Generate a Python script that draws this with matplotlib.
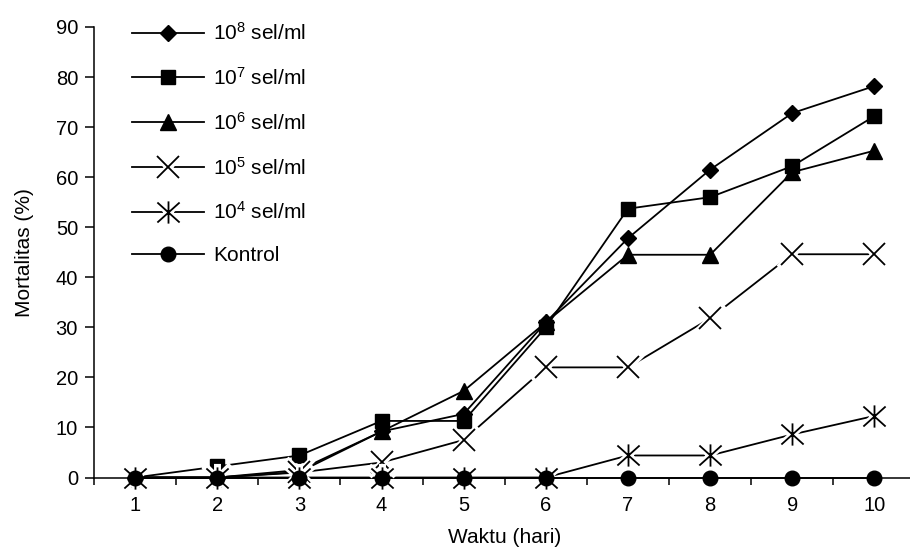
import matplotlib
matplotlib.use('Agg')
import matplotlib.pyplot as plt
from matplotlib.path import Path
from matplotlib.markers import MarkerStyle
from matplotlib.legend_handler import HandlerTuple
from matplotlib.ticker import MultipleLocator, FixedLocator

plt.rcParams['font.family'] = ['Liberation Sans', 'DejaVu Sans']
plt.rcParams['mathtext.default'] = 'regular'
plt.rcParams['font.size'] = 15

# data (mortalitas %, hari 1-10)
days = [1, 2, 3, 4, 5, 6, 7, 8, 9, 10]
d8 = [0, 0, 1.5, 9.2, 12.7, 31.0, 47.8, 61.5, 72.8, 78.2]
d7 = [0, 2.2, 4.4, 11.3, 11.3, 30.0, 53.7, 56.0, 62.2, 72.2]
d6 = [0, 0, 1.1, 9.2, 17.3, 31.0, 44.5, 44.5, 61.0, 65.3]
d5 = [0, 0, 1.0, 3.0, 7.5, 22.0, 22.0, 31.8, 44.6, 44.6]
d4 = [0, 0, 0, 0, 0, 0, 4.4, 4.4, 8.6, 12.3]
kontrol = [0, 0, 0, 0, 0, 0, 0, 0, 0, 0]
labels = ['10$^{8}$ sel/ml', '10$^{7}$ sel/ml', '10$^{6}$ sel/ml',
          '10$^{5}$ sel/ml', '10$^{4}$ sel/ml', 'Kontrol']

# asterisk marker like excel: X plus vertical bar
ast = Path([(-1, -0.9), (1, 0.9), (-1, 0.9), (1, -0.9), (0, -1), (0, 1)],
           [Path.MOVETO, Path.LINETO] * 3)

series = [d8, d7, d6, d5, d4, kontrol]
markers = ['D', 's', '^', 'x', ast, 'o']
sizes = [8, 9.5, 11, 16, 16, 10.5]
halo = [False, False, False, True, True, False]

fig = plt.figure(figsize=(9.1, 5.5), dpi=100)
ax = fig.add_axes([94 / 910, 72.5 / 550, 821.5 / 910, 450.5 / 550])

handles = []
for i, vals in enumerate(series):
    # all lines first, markers on top (excel drawing order)
    ln, = ax.plot(days, vals, '-', color='black', lw=1.3, zorder=2, clip_on=False)
    parts = [ln]
    z = 3 + i
    if halo[i]:
        hm, = ax.plot(days, vals, ls='none', color='white', zorder=z,
                      marker=MarkerStyle(markers[i], capstyle='projecting'),
                      ms=sizes[i], mew=5, clip_on=False)
        parts.append(hm)
        mk, = ax.plot(days, vals, ls='none', color='black', zorder=z + 0.5,
                      marker=markers[i], ms=sizes[i], mew=1.3,
                      mfc='none', clip_on=False)
    else:
        mk, = ax.plot(days, vals, ls='none', color='black', zorder=z + 0.5,
                      marker=markers[i], ms=sizes[i], mew=1,
                      mfc='black', clip_on=False)
    parts.append(mk)
    handles.append(tuple(parts))

ax.set_xlim(0.5, 10.5)
ax.set_ylim(0, 90)
ax.spines['top'].set_visible(False)
ax.spines['right'].set_visible(False)
ax.spines['left'].set_linewidth(1.1)
ax.spines['bottom'].set_linewidth(1.1)

ax.xaxis.set_major_locator(FixedLocator(days))
ax.xaxis.set_minor_locator(MultipleLocator(1, offset=0.5))
ax.tick_params(axis='x', which='major', length=0, pad=13, labelsize=14.5)
ax.tick_params(axis='x', which='minor', length=5, width=1.1, direction='out')
ax.yaxis.set_major_locator(MultipleLocator(10))
ax.tick_params(axis='y', length=6.5, width=1.1, direction='out', pad=5,
               labelsize=14.5)

ax.set_xlabel('Waktu (hari)')
ax.set_ylabel('Mortalitas (%)')
ax.xaxis.set_label_coords(0.5, -0.112)
ax.yaxis.set_label_coords(-0.073, 0.5)

ax.legend(handles, labels, handler_map={tuple: HandlerTuple(ndivide=1)},
          loc='upper left', bbox_to_anchor=(132 / 910, 1 - 22 / 550),
          bbox_transform=fig.transFigure, frameon=False, numpoints=1,
          handlelength=3.46, handletextpad=0.42, labelspacing=1.1,
          borderpad=0, borderaxespad=0)

fig.savefig('out.png', dpi=100)
